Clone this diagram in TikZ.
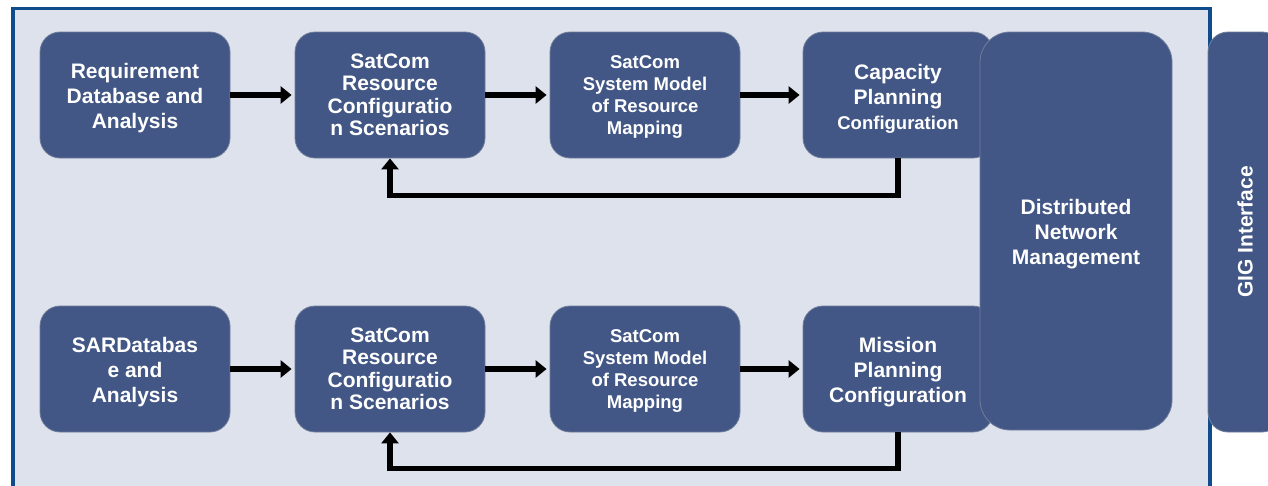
\documentclass[tikz,border=0pt]{standalone}
\usepackage{fontspec}
\setmainfont{Liberation Sans}
\usetikzlibrary{arrows.meta}
\definecolor{panelfill}{RGB}{222,226,236}
\definecolor{panelline}{RGB}{16,76,140}
\definecolor{boxfill}{RGB}{66,87,133}
\definecolor{boxedge}{RGB}{112,126,156}
% an invisible strut that makes a first line taller, setting the block lower
\newcommand{\lowerby}[1]{\rule{0pt}{#1}}

\begin{document}
\begin{tikzpicture}[x=1pt,y=-1pt,
  blk/.style={rectangle, rounded corners=20pt, fill=boxfill, draw=boxedge,
    line width=0.8pt, text=white, align=center, minimum width=190pt,
    minimum height=126pt, inner sep=0pt,
    font=\fontsize{21}{25}\selectfont\bfseries},
  tight/.style={font=\fontsize{21}{22.5}\selectfont\bfseries},
  small/.style={font=\fontsize{18.5}{22}\selectfont\bfseries},
  flow/.style={line width=5.5pt, black, -{Triangle[length=11pt,width=17pt]}},
]
\useasboundingbox (0,0) rectangle (1268,485);

% background panel, open at the bottom
\begin{scope}
  \clip (0,0) rectangle (1268,485);
  \fill[panelfill] (13,8.5) rectangle (1210,500);
  \draw[panelline, line width=3.5pt] (13,500) -- (13,8.5) -- (1210,8.5) -- (1210,500);
  % GIG interface strip on the right edge
  \node[blk, minimum width=74pt, minimum height=400pt] (gig) at (1245,232) {};
\end{scope}
\node[text=white, rotate=90, font=\fontsize{21}{25}\selectfont\bfseries] (gigtxt) at (1245,232) {GIG Interface};

% upper chain
\node[blk] (req) at (135,95) {\lowerby{21pt}Requirement\\Database and\\Analysis};
\node[blk, tight] (res1) at (390,95) {SatCom\\Resource\\Configuratio\\n Scenarios};
\node[blk, small] (mod1) at (645,95) {\lowerby{17.5pt}SatCom\\System Model\\of Resource\\Mapping};
\node[blk] (cap) at (898,95) {\lowerby{22pt}Capacity\\Planning\\{\fontsize{18.5}{22}\selectfont Configuration}};

% lower chain
\node[blk] (sar) at (135,369) {\lowerby{21pt}SARDatabas\\e and\\Analysis};
\node[blk, tight] (res2) at (390,369) {SatCom\\Resource\\Configuratio\\n Scenarios};
\node[blk, small] (mod2) at (645,369) {\lowerby{17.5pt}SatCom\\System Model\\of Resource\\Mapping};
\node[blk] (mis) at (898,369) {\lowerby{21pt}Mission\\Planning\\Configuration};

% network management block spanning both chains
\node[blk, rounded corners=30pt, minimum width=192pt, minimum height=398pt] (dnm) at (1076,231) {\lowerby{21pt}Distributed\\Network\\Management};

% forward flow
\draw[flow, shorten >=3pt] (req) -- (res1);
\draw[flow, shorten >=3pt] (res1) -- (mod1);
\draw[flow, shorten >=3pt] (mod1) -- (cap);
\draw[flow, shorten >=3pt] (sar) -- (res2);
\draw[flow, shorten >=3pt] (res2) -- (mod2);
\draw[flow, shorten >=3pt] (mod2) -- (mis);

% feedback loops
\draw[flow] (cap.south) -- ++(0,37) -| (res1.south);
\draw[flow] (mis.south) -- ++(0,36) -| (res2.south);
\end{tikzpicture}
\end{document}
